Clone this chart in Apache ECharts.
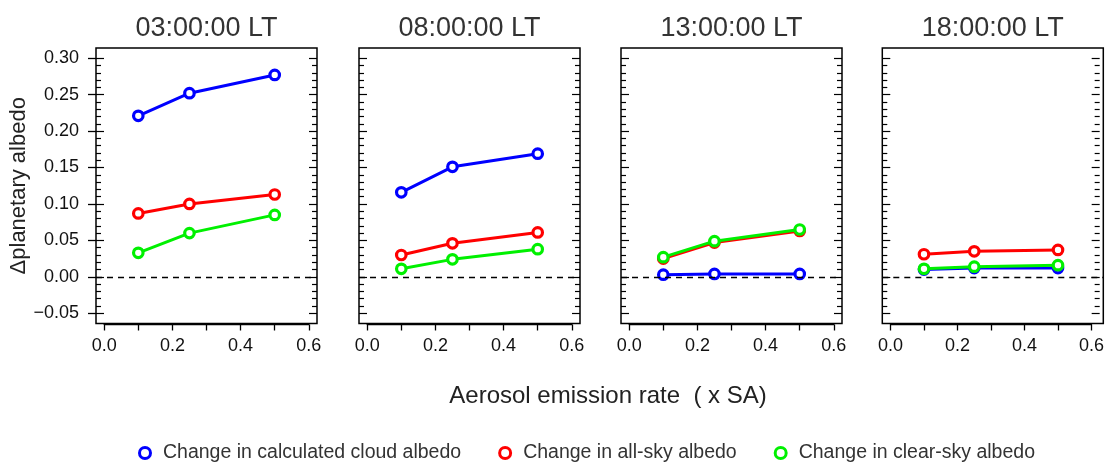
<!DOCTYPE html>
<html>
<head>
<meta charset="utf-8">
<script src="https://cdn.jsdelivr.net/npm/echarts@6/dist/echarts.min.js"></script>
<style>
  html, body { margin: 0; padding: 0; background: #fff; }
  #main { width: 1107px; height: 464px; }
</style>
</head>
<body>
<div id="main"></div>
<script>
// values
var emissionRates = [0.1, 0.25, 0.5];
var panelTitles = ['03:00:00 LT', '08:00:00 LT', '13:00:00 LT', '18:00:00 LT'];
var seriesNames = ['Change in calculated cloud albedo', 'Change in all-sky albedo', 'Change in clear-sky albedo'];
var seriesColors = ['#0000ff', '#ff0000', '#00f000'];
// one row per panel
var cloudAlbedo = [[0.221, 0.252, 0.277], [0.116, 0.151, 0.169], [0.003, 0.004, 0.004], [0.010, 0.012, 0.012]];
var allSkyAlbedo = [[0.087, 0.100, 0.113], [0.030, 0.046, 0.061], [0.025, 0.047, 0.063], [0.031, 0.035, 0.037]];
var clearSkyAlbedo = [[0.033, 0.060, 0.085], [0.011, 0.024, 0.038], [0.027, 0.049, 0.065], [0.011, 0.014, 0.016]];
var xMin = 0, xMax = 0.6, xStep = 0.1;
var yMin = -0.05, yMax = 0.30, yStep = 0.05;

// layout (R style: box is 4% wider than the data range)
var boxLefts = [96, 359, 621, 882.3];
var boxW = 221, boxTop = 48, boxH = 275.5;
var insetX = boxW * 0.04 / 1.08;
var insetY = boxH * 0.04 / 1.08;
var padX = (xMax - xMin) * 0.04, padY = (yMax - yMin) * 0.04;

var allValues = [cloudAlbedo, allSkyAlbedo, clearSkyAlbedo];
var grid = [], xAxis = [], yAxis = [], series = [];

function fmtY(v) {
    var s = Math.abs(v).toFixed(2);
    return v < -1e-9 ? '\u2212' + s : s;
}

panelTitles.forEach(function (title, i) {
    var L = boxLefts[i];
    // outer box
    grid.push({left: L, top: boxTop, width: boxW, height: boxH, show: true,
        borderColor: '#000', borderWidth: 1.5, backgroundColor: 'transparent'});
    // data area
    grid.push({left: L + insetX, top: boxTop + insetY, width: boxW - 2 * insetX, height: boxH - 2 * insetY});
    var gO = 2 * i, gI = 2 * i + 1;

    var xo = xAxis.length;
    xAxis.push({
        gridIndex: gO, type: 'value', position: 'top', min: xMin - padX, max: xMax + padX,
        axisLine: {show: false, onZero: false}, axisTick: {show: false}, axisLabel: {show: false}, splitLine: {show: false},
        name: title, nameLocation: 'middle', nameGap: 6,
        nameTextStyle: {fontSize: 27, color: '#333'}
    });
    var xi = xAxis.length;
    xAxis.push({
        gridIndex: gI, type: 'value', position: 'bottom', min: xMin, max: xMax, interval: xStep,
        offset: insetY + 1,
        axisLine: {show: true, onZero: false, lineStyle: {color: '#000', width: 1.3}},
        axisTick: {show: true, inside: false, length: 6, lineStyle: {color: '#000', width: 1.3}},
        axisLabel: {fontSize: 18, color: '#111', margin: 13,
            formatter: function (v) { return Math.round(v * 10) % 2 === 0 ? v.toFixed(1) : ''; }},
        splitLine: {show: false}
    });

    var yo = yAxis.length;
    yAxis.push({gridIndex: gO, type: 'value', min: yMin - padY, max: yMax + padY, show: false,
        axisLine: {onZero: false}});
    var inward = function (pos) {
        return {
            gridIndex: gI, type: 'value', position: pos, offset: insetX,
            min: yMin, max: yMax, interval: yStep,
            axisLine: {show: false, onZero: false},
            axisTick: {show: true, inside: true, length: 8, lineStyle: {color: '#000', width: 1.2}},
            minorTick: {show: true, splitNumber: 5, length: 5, lineStyle: {color: '#000', width: 1.2}},
            axisLabel: {show: false}, splitLine: {show: false}, minorSplitLine: {show: false}
        };
    };
    var yi = yAxis.length;
    yAxis.push(inward('left'));
    yAxis.push(inward('right'));
    if (i === 0) {
        yAxis.push({
            gridIndex: gI, type: 'value', position: 'left', offset: insetX,
            min: yMin, max: yMax, interval: yStep,
            axisLine: {show: false, onZero: false},
            axisTick: {show: true, inside: false, length: 8, lineStyle: {color: '#000', width: 1.3}},
            axisLabel: {fontSize: 18, color: '#111', margin: 17, formatter: fmtY},
            splitLine: {show: false},
            name: '\u0394planetary albedo', nameLocation: 'middle', nameGap: 56,
            nameTextStyle: {fontSize: 22, color: '#222'}
        });
    }

    // dashed zero line across the whole box
    series.push({
        type: 'line', data: [], xAxisIndex: xo, yAxisIndex: yo, silent: true,
        markLine: {
            silent: true, symbol: ['none', 'none'], label: {show: false}, animation: false,
            lineStyle: {color: '#000', type: [6, 5], width: 1.3},
            data: [{yAxis: 0}]
        }
    });

    allValues.forEach(function (vals, k) {
        series.push({
            type: 'line', name: seriesNames[k],
            xAxisIndex: xi, yAxisIndex: yi,
            data: emissionRates.map(function (x, j) { return [x, vals[i][j]]; }),
            symbol: 'circle', symbolSize: 9.5, clip: false,
            lineStyle: {color: seriesColors[k], width: 3},
            itemStyle: {color: '#fff', borderColor: seriesColors[k], borderWidth: 3.2},
            z: 3 + k
        });
    });
});

var myChart = echarts.init(document.getElementById('main'));
var option = {
    animation: false,
    textStyle: {fontFamily: 'Liberation Sans, Arial, Helvetica, sans-serif'},
    grid: grid,
    xAxis: xAxis,
    yAxis: yAxis,
    series: series,
    legend: {
        data: seriesNames, left: 138, top: 443, padding: 0,
        itemWidth: 26, itemHeight: 11, itemGap: 37, icon: 'circle',
        lineStyle: {width: 0},
        itemStyle: {color: '#fff', borderWidth: 3},
        textStyle: {fontSize: 19.5, color: '#333'}
    },
    graphic: [{
        type: 'text', x: 608, y: 396,
        style: {text: 'Aerosol emission rate  ( x SA)', fontSize: 24, fill: '#222',
            fontFamily: 'Liberation Sans, Arial, sans-serif', align: 'center', verticalAlign: 'middle'}
    }]
};
myChart.setOption(option);
</script>
</body>
</html>
